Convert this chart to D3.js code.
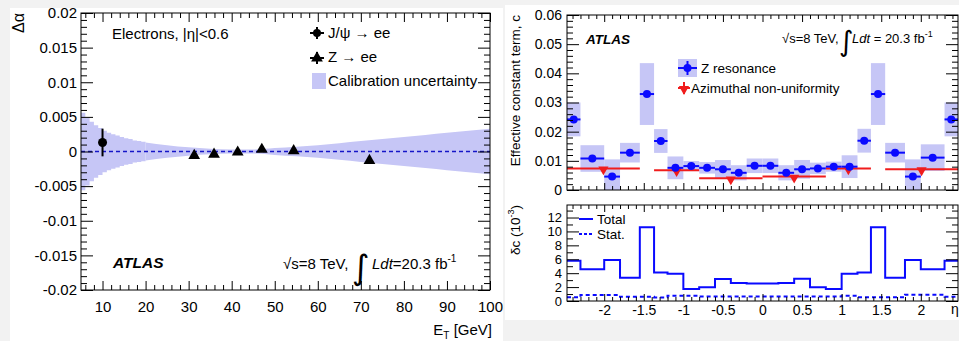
<!DOCTYPE html>
<html>
<head>
<meta charset="utf-8">
<script src="https://cdn.jsdelivr.net/npm/d3@7"></script>
<style>
  body { margin: 0; background: #f2f2f2; }
  svg { display: block; font-family: "Liberation Sans", Arial, Helvetica, sans-serif; }
</style>
</head>
<body>
<svg id="chart" width="959" height="341"></svg>
<script>
// ---------- left panel data : Delta alpha vs ET ----------
const jpsiEt = [10];
const jpsiVal = [0.0013];
const jpsiErr = [0.002];

const zEt = [31.3, 35.9, 41.4, 47.0, 54.4, 72.0];
const zVal = [-0.0006, -0.0004, -0.0001, 0.0003, 0.0001, -0.0013];

// calibration uncertainty band (half width), stepped part then smooth part
const bandStepEt = [5, 6, 7, 8, 9, 10, 11, 12, 13, 14, 15, 16, 17, 18, 19, 20];
const bandStepHw = [0.0056, 0.0049, 0.0043, 0.0038, 0.0034, 0.0030, 0.0027, 0.0025, 0.0023, 0.0021, 0.0019, 0.0018, 0.0016, 0.0015, 0.0014, 0.0013];
const bandEt = [20, 25, 30, 35, 40, 45, 50, 55, 60, 65, 70, 75, 80, 85, 90, 95, 100];
const bandHw = [0.0013, 0.0009, 0.0006, 0.0004, 0.0003, 0.0003, 0.0005, 0.0007, 0.0009, 0.0012, 0.0015, 0.0018, 0.0021, 0.0024, 0.0027, 0.0030, 0.0033];

const leftXTicks = [10, 20, 30, 40, 50, 60, 70, 80, 90, 100];
const leftYTicks = [-0.02, -0.015, -0.01, -0.005, 0, 0.005, 0.01, 0.015, 0.02];

// ---------- right panel data : constant term vs eta ----------
const etaEdges = [-2.47, -2.3, -2.0, -1.8, -1.55, -1.37, -1.2, -1.0, -0.8, -0.6, -0.4, -0.2, 0,
                  0.2, 0.4, 0.6, 0.8, 1.0, 1.2, 1.37, 1.55, 1.8, 2.0, 2.3, 2.47];
const zResC = [0.0242, 0.0108, 0.0046, 0.0128, 0.0329, 0.0168, 0.0076, 0.0082, 0.0076, 0.0071, 0.0059, 0.0083,
               0.0083, 0.0059, 0.0071, 0.0074, 0.0080, 0.0080, 0.0169, 0.0329, 0.0128, 0.0046, 0.0111, 0.0242];
// uncertainty in units of 1e-3
const deltaTotal = [5.8, 4.56, 5.9, 3.36, 10.6, 4.08, 3.9, 1.73, 1.97, 3.17, 2.6, 2.5,
                    2.5, 2.6, 3.2, 1.97, 1.73, 3.9, 4.08, 10.6, 3.36, 5.9, 4.56, 5.8];
const deltaStat = [0.53, 0.86, 0.86, 0.6, 0.6, 0.5, 0.75, 0.75, 0.63, 0.63, 0.63, 0.63,
                   0.63, 0.63, 0.63, 0.63, 0.63, 0.77, 0.53, 0.53, 0.53, 0.9, 0.9, 0.62];

const azLo = [-2.47, -1.37, -0.8, 0, 0.8, 1.55];
const azHi = [-1.55, -0.8, 0, 0.8, 1.37, 2.47];
const azVal = [0.0074, 0.0068, 0.0040, 0.0046, 0.0074, 0.0071];

const etaTicks = [-2, -1.5, -1, -0.5, 0, 0.5, 1, 1.5, 2];
const cTicks = [0, 0.01, 0.02, 0.03, 0.04, 0.05, 0.06];
const dcTicks = [0, 2, 4, 6, 8, 10, 12];

const BAND = '#c6c6f6';
const BLUE = '#0a0aff';
const RED = '#f01c1c';

const svg = d3.select('#chart');

// panel backgrounds
svg.append('rect').attr('x', 10).attr('y', 8).attr('width', 493).attr('height', 333).attr('fill', '#fff');
svg.append('rect').attr('x', 505).attr('y', 5).attr('width', 454).attr('height', 315).attr('fill', '#fff');

// inward ticks helper (ROOT style)
function tickSet(g, axis, transform, values, size) {
  g.append('g').attr('transform', transform)
    .call(axis.tickValues(values).tickSize(-size).tickFormat(''))
    .call(s => s.select('.domain').remove());
}

function frame(g, x, y, o) {
  const [x0, x1] = x.range(), [y0, y1] = y.range();
  tickSet(g, d3.axisBottom(x), `translate(0,${y0})`, o.xMajor, o.xMajLen);
  tickSet(g, d3.axisBottom(x), `translate(0,${y0})`, o.xMinor, o.xMinLen);
  tickSet(g, d3.axisTop(x), `translate(0,${y1})`, o.xMajor, o.xMajLen);
  tickSet(g, d3.axisTop(x), `translate(0,${y1})`, o.xMinor, o.xMinLen);
  tickSet(g, d3.axisLeft(y), `translate(${x0},0)`, o.yMajor, o.yMajLen);
  tickSet(g, d3.axisLeft(y), `translate(${x0},0)`, o.yMinor, o.yMinLen);
  tickSet(g, d3.axisRight(y), `translate(${x1},0)`, o.yMajor, o.yMajLen);
  tickSet(g, d3.axisRight(y), `translate(${x1},0)`, o.yMinor, o.yMinLen);
  g.append('rect').attr('x', x0).attr('y', y1).attr('width', x1 - x0).attr('height', y0 - y1)
    .attr('fill', 'none').attr('stroke', '#000').attr('stroke-width', 1);
}

function labels(g, axis, transform, values, pad, size, fmt) {
  g.append('g').attr('transform', transform)
    .call(axis.tickValues(values).tickSize(0).tickPadding(pad).tickFormat(fmt))
    .call(s => s.select('.domain').remove())
    .call(s => s.selectAll('text').attr('font-size', size).attr('font-family', null).attr('fill', '#000'));
}

const fmtNum = d => String(+d.toFixed(3));

// ================= LEFT PANEL =================
const xL = d3.scaleLinear().domain([5, 100]).range([81, 490]);
const yL = d3.scaleLinear().domain([-0.02, 0.02]).range([290, 13]);
const gL = svg.append('g');

gL.append('path').datum(bandStepEt.map((e, i) => [e, bandStepHw[i]]))
  .attr('fill', BAND)
  .attr('d', d3.area().curve(d3.curveStepAfter).x(d => xL(d[0])).y0(d => yL(-d[1])).y1(d => yL(d[1])));
gL.append('path').datum(bandEt.map((e, i) => [e, bandHw[i]]))
  .attr('fill', BAND)
  .attr('d', d3.area().curve(d3.curveMonotoneX).x(d => xL(d[0])).y0(d => yL(-d[1])).y1(d => yL(d[1])));

gL.append('line').attr('x1', xL(5)).attr('x2', xL(100)).attr('y1', yL(0)).attr('y2', yL(0))
  .attr('stroke', '#1515c8').attr('stroke-width', 1.6).attr('stroke-dasharray', '4,3');

frame(gL, xL, yL, {
  xMajor: leftXTicks, xMinor: d3.range(6, 100, 2).filter(v => v % 10 !== 0), xMajLen: 9, xMinLen: 5,
  yMajor: leftYTicks, yMinor: d3.range(-19, 20).filter(v => v % 5 !== 0).map(v => v / 1000), yMajLen: 12, yMinLen: 6
});
labels(gL, d3.axisLeft(yL), `translate(${xL(5)},0)`, leftYTicks, 4, 15, fmtNum);
labels(gL, d3.axisBottom(xL), `translate(0,${yL(-0.02)})`, leftXTicks, 11, 15, d3.format('d'));

// J/psi point
gL.selectAll('.jerr').data(jpsiEt).join('line')
  .attr('x1', d => xL(d)).attr('x2', d => xL(d))
  .attr('y1', (d, i) => yL(jpsiVal[i] - jpsiErr[i])).attr('y2', (d, i) => yL(jpsiVal[i] + jpsiErr[i]))
  .attr('stroke', '#000').attr('stroke-width', 2);
gL.selectAll('.jpt').data(jpsiEt).join('circle')
  .attr('cx', d => xL(d)).attr('cy', (d, i) => yL(jpsiVal[i])).attr('r', 4.5).attr('fill', '#000');

// Z points
const triUp = d3.symbol().type(d3.symbolTriangle).size(60);
gL.selectAll('.zpt').data(zEt).join('path')
  .attr('transform', (d, i) => `translate(${xL(d)},${yL(zVal[i])})`)
  .attr('d', triUp).attr('fill', '#000');

// texts
gL.append('text').attr('x', 112).attr('y', 39).attr('font-size', 15).text('Electrons, |η|<0.6');
gL.append('text').attr('transform', 'translate(24,13) rotate(-90)').attr('text-anchor', 'end')
  .attr('font-size', 16).text('Δα');

// legend
const lg = gL.append('g');
lg.append('line').attr('x1', 310).attr('x2', 324).attr('y1', 33).attr('y2', 33).attr('stroke', '#000').attr('stroke-width', 2);
lg.append('line').attr('x1', 317).attr('x2', 317).attr('y1', 27).attr('y2', 39).attr('stroke', '#000').attr('stroke-width', 2);
lg.append('circle').attr('cx', 317).attr('cy', 33).attr('r', 4).attr('fill', '#000');
lg.append('text').attr('x', 328).attr('y', 38).attr('font-size', 15).text('J/ψ → ee');
lg.append('line').attr('x1', 310).attr('x2', 324).attr('y1', 58).attr('y2', 58).attr('stroke', '#000').attr('stroke-width', 2);
lg.append('line').attr('x1', 317).attr('x2', 317).attr('y1', 52).attr('y2', 64).attr('stroke', '#000').attr('stroke-width', 2);
lg.append('path').attr('transform', 'translate(317,58)').attr('d', triUp).attr('fill', '#000');
lg.append('text').attr('x', 328).attr('y', 62).attr('font-size', 15).text('Z → ee');
lg.append('rect').attr('x', 312).attr('y', 73).attr('width', 14).attr('height', 16).attr('fill', BAND);
lg.append('text').attr('x', 328).attr('y', 86).attr('font-size', 15).text('Calibration uncertainty');

gL.append('text').attr('x', 113).attr('y', 268).attr('font-size', 15.5).attr('font-weight', 'bold')
  .attr('font-style', 'italic').text('ATLAS');
gL.append('text').attr('x', 283).attr('y', 269).attr('font-size', 15).text('√s=8 TeV,');
gL.append('text').attr('x', 352).attr('y', 279).attr('font-size', 34).attr('font-family', 'DejaVu Sans').text('∫');
const lumL = gL.append('text').attr('x', 372).attr('y', 269).attr('font-size', 15);
lumL.append('tspan').attr('font-style', 'italic').text('Ldt');
lumL.append('tspan').text('=20.3 fb');
lumL.append('tspan').attr('font-size', 10).attr('dy', -7).text('-1');

const etL = gL.append('text').attr('x', 492).attr('y', 335).attr('text-anchor', 'end').attr('font-size', 15);
etL.append('tspan').text('E');
etL.append('tspan').attr('font-size', 10).attr('dy', 4).text('T');
etL.append('tspan').attr('dy', -4).text(' [GeV]');

// ================= RIGHT PANEL =================
const xR = d3.scaleLinear().domain([-2.47, 2.47]).range([567, 958]);
const yT = d3.scaleLinear().domain([0, 0.06]).range([190, 15]);
const yB = d3.scaleLinear().domain([0, 13.8]).range([301, 205]);
const gR = svg.append('g');

const bins = zResC.map((c, i) => ({ lo: etaEdges[i], hi: etaEdges[i + 1], c, tot: deltaTotal[i], stat: deltaStat[i] }));

// box height = total uncertainty from the lower pad
gR.append('g').selectAll('rect').data(bins).join('rect')
  .attr('x', d => xR(d.lo)).attr('width', d => xR(d.hi) - xR(d.lo))
  .attr('y', d => yT(d.c + d.tot / 1000))
  .attr('height', d => Math.min(yT(0), yT(d.c - d.tot / 1000)) - yT(d.c + d.tot / 1000))
  .attr('fill', BAND);

// azimuthal non-uniformity
const az = azVal.map((v, i) => ({ lo: azLo[i], hi: azHi[i], v }));
gR.selectAll('.azl').data(az).join('line')
  .attr('x1', d => xR(d.lo)).attr('x2', d => xR(d.hi)).attr('y1', d => yT(d.v)).attr('y2', d => yT(d.v))
  .attr('stroke', RED).attr('stroke-width', 2);
const triDown = d3.symbol().type(d3.symbolTriangle).size(45);
gR.selectAll('.azm').data(az).join('path')
  .attr('transform', d => `translate(${xR((d.lo + d.hi) / 2)},${yT(d.v) + 1}) rotate(180)`)
  .attr('d', triDown).attr('fill', RED);

// Z resonance points
gR.selectAll('.zl').data(bins).join('line')
  .attr('x1', d => xR(d.lo)).attr('x2', d => xR(d.hi)).attr('y1', d => yT(d.c)).attr('y2', d => yT(d.c))
  .attr('stroke', BLUE).attr('stroke-width', 2);
gR.selectAll('.zp').data(bins).join('circle')
  .attr('cx', d => xR((d.lo + d.hi) / 2)).attr('cy', d => yT(d.c)).attr('r', 4).attr('fill', BLUE);

frame(gR, xR, yT, {
  xMajor: etaTicks, xMinor: d3.range(-24, 25).filter(v => v % 5 !== 0).map(v => v / 10), xMajLen: 7, xMinLen: 4,
  yMajor: cTicks, yMinor: d3.range(1, 30).filter(v => v % 5 !== 0).map(v => v / 500), yMajLen: 12, yMinLen: 6
});
labels(gR, d3.axisLeft(yT), `translate(${xR(-2.47)},0)`, cTicks, 5, 14, fmtNum);

// lower pad: uncertainties
const stepLine = d3.line().curve(d3.curveStepAfter).x(d => xR(d[0])).y(d => yB(d[1]));
const totPts = bins.map(d => [d.lo, d.tot]).concat([[2.47, deltaTotal[deltaTotal.length - 1]]]);
const statPts = bins.map(d => [d.lo, d.stat]).concat([[2.47, deltaStat[deltaStat.length - 1]]]);
gR.append('path').datum(totPts).attr('d', stepLine).attr('fill', 'none').attr('stroke', BLUE).attr('stroke-width', 2);
gR.append('path').datum(statPts).attr('d', stepLine).attr('fill', 'none').attr('stroke', BLUE)
  .attr('stroke-width', 2).attr('stroke-dasharray', '4,3');

frame(gR, xR, yB, {
  xMajor: etaTicks, xMinor: d3.range(-24, 25).filter(v => v % 5 !== 0).map(v => v / 10), xMajLen: 7, xMinLen: 4,
  yMajor: dcTicks, yMinor: d3.range(1, 14).filter(v => v % 2 !== 0), yMajLen: 12, yMinLen: 6
});
labels(gR, d3.axisLeft(yB), `translate(${xR(-2.47)},0)`, dcTicks, 5, 13, d3.format('d'));
labels(gR, d3.axisBottom(xR), `translate(0,${yB(0)})`, etaTicks, 4, 14, fmtNum);

// right texts
gR.append('text').attr('transform', 'translate(520,15) rotate(-90)').attr('text-anchor', 'end')
  .attr('font-size', 13.5).text('Effective constant term, c');
const dcL = gR.append('text').attr('transform', 'translate(520,205) rotate(-90)').attr('text-anchor', 'end')
  .attr('font-size', 13.5);
dcL.append('tspan').text('δc (10');
dcL.append('tspan').attr('font-size', 9).attr('dy', -6).text('-3');
dcL.append('tspan').attr('dy', 6).text(')');
gR.append('text').attr('x', 951).attr('y', 314).attr('font-size', 14).text('η');

gR.append('text').attr('x', 586).attr('y', 44).attr('font-size', 13.5).attr('font-weight', 'bold')
  .attr('font-style', 'italic').text('ATLAS');
gR.append('text').attr('x', 782).attr('y', 43).attr('font-size', 13).text('√s=8 TeV,');
gR.append('text').attr('x', 839).attr('y', 51).attr('font-size', 28).attr('font-family', 'DejaVu Sans').text('∫');
const lumR = gR.append('text').attr('x', 852).attr('y', 43).attr('font-size', 13);
lumR.append('tspan').attr('font-style', 'italic').text('Ldt');
lumR.append('tspan').text(' = 20.3 fb');
lumR.append('tspan').attr('font-size', 9).attr('dy', -6).text('-1');

// right legend
const lr = gR.append('g');
lr.append('rect').attr('x', 678).attr('y', 59).attr('width', 19).attr('height', 18).attr('fill', BAND);
lr.append('line').attr('x1', 678).attr('x2', 697).attr('y1', 68).attr('y2', 68).attr('stroke', BLUE).attr('stroke-width', 2);
lr.append('line').attr('x1', 687.5).attr('x2', 687.5).attr('y1', 61).attr('y2', 75).attr('stroke', BLUE).attr('stroke-width', 2);
lr.append('circle').attr('cx', 687.5).attr('cy', 68).attr('r', 4).attr('fill', BLUE);
lr.append('text').attr('x', 701).attr('y', 73).attr('font-size', 13.5).text('Z resonance');
lr.append('line').attr('x1', 678).attr('x2', 690).attr('y1', 88).attr('y2', 88).attr('stroke', RED).attr('stroke-width', 2);
lr.append('line').attr('x1', 684).attr('x2', 684).attr('y1', 82).attr('y2', 94).attr('stroke', RED).attr('stroke-width', 2);
lr.append('path').attr('transform', 'translate(684,89) rotate(180)').attr('d', triDown).attr('fill', RED);
lr.append('text').attr('x', 691).attr('y', 93).attr('font-size', 13.5).text('Azimuthal non-uniformity');

// lower legend
lr.append('line').attr('x1', 579).attr('x2', 593).attr('y1', 219).attr('y2', 219).attr('stroke', BLUE).attr('stroke-width', 2);
lr.append('text').attr('x', 597).attr('y', 224).attr('font-size', 13.5).text('Total');
lr.append('line').attr('x1', 579).attr('x2', 593).attr('y1', 234).attr('y2', 234).attr('stroke', BLUE)
  .attr('stroke-width', 2).attr('stroke-dasharray', '3,2');
lr.append('text').attr('x', 597).attr('y', 239).attr('font-size', 13.5).text('Stat.');
</script>
</body>
</html>
